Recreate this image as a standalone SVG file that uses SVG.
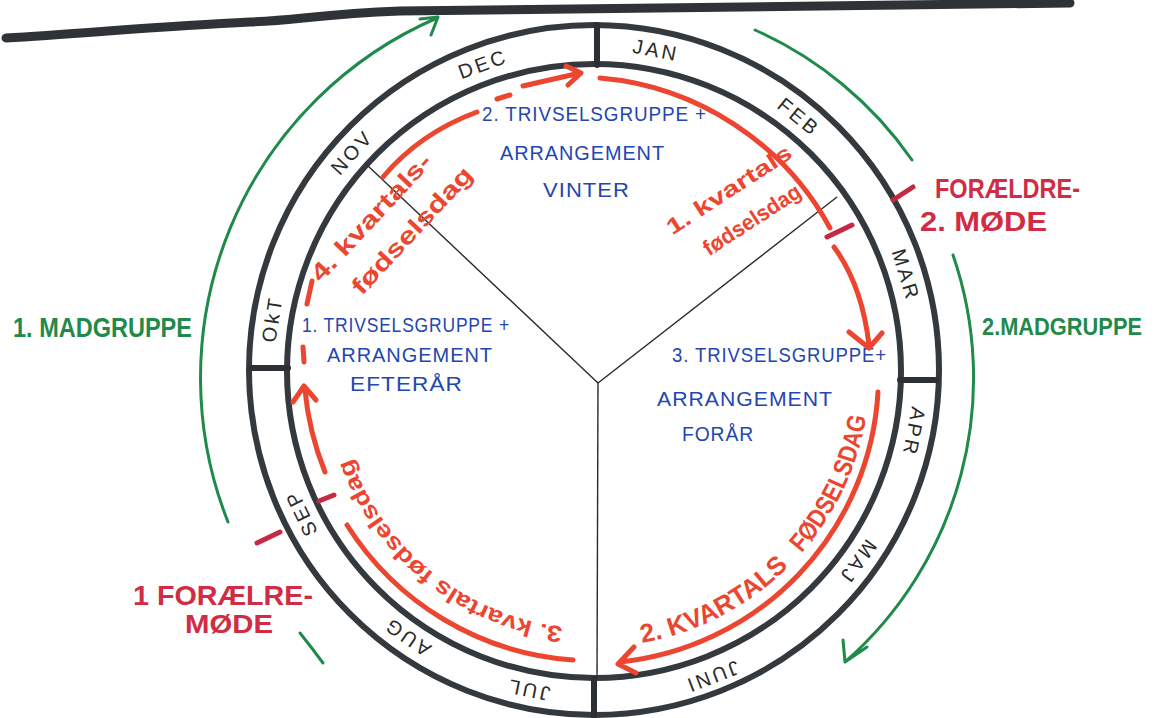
<svg xmlns="http://www.w3.org/2000/svg" width="1159" height="718" viewBox="0 0 1159 718">
<defs>
<style>
.ring{fill:none;stroke:#34393e;stroke-width:6}
.div{stroke:#2c3034;stroke-width:6;stroke-linecap:round}
.spoke{stroke:#2a2a2a;stroke-width:1.4}
.mon{font-family:"Liberation Sans",Arial,sans-serif;font-size:20px;fill:#2a2a2a;letter-spacing:3px;text-anchor:middle;dominant-baseline:central}
.blue{font-family:"Liberation Sans",Arial,sans-serif;font-size:21px;fill:#2346b0;letter-spacing:1px}
.red{fill:none;stroke:#ec4530;stroke-width:5;stroke-linecap:round;stroke-linejoin:round}
.redt{font-family:"Liberation Sans",Arial,sans-serif;fill:#ec4530;font-weight:bold}
.tick{stroke:#c42a44;stroke-width:5;stroke-linecap:round}
.crim{font-family:"Liberation Sans",Arial,sans-serif;fill:#d02c44;font-weight:bold}
.grn{fill:none;stroke:#1f8a4a;stroke-width:3;stroke-linecap:round;stroke-linejoin:round}
.grnt{font-family:"Liberation Sans",Arial,sans-serif;fill:#1f8a4a;font-weight:bold}
</style>
<path id="p2a" d="M 642,643 A 276 276 0 0 0 790.9,564.4"/>
<path id="p2b" d="M 801.4,553.2 A 276 276 0 0 0 866.6,414.2"/>
<path id="p3" d="M 563,627 A 258 258 0 0 1 350,455"/>
</defs>
<rect width="1159" height="718" fill="#ffffff"/>
<path d="M6,38 C80,34 160,26 250,22 C300,20 320,14 400,11 C520,8 700,7 900,5 L1070,3" fill="none" stroke="#2f3338" stroke-width="9" stroke-linecap="round"/>

<g id="wheel">
<circle class="ring" cx="594" cy="370" r="345"/>
<circle class="ring" cx="594" cy="371" r="307"/>
<line class="div" x1="597" y1="25" x2="597" y2="65"/>
<line class="div" x1="251" y1="368" x2="288" y2="368"/>
<line class="div" x1="900" y1="380" x2="937" y2="380"/>
<line class="div" x1="594" y1="679" x2="594" y2="716"/>
</g>

<g id="spokes">
<line class="spoke" x1="598" y1="383" x2="367" y2="165"/>
<line class="spoke" x1="598" y1="383" x2="837" y2="197"/>
<line class="spoke" x1="598" y1="383" x2="597" y2="678"/>
</g>

<g id="months">
<text class="mon" transform="translate(656,50) rotate(11)">JAN</text>
<text class="mon" transform="translate(799,117) rotate(39)">FEB</text>
<text class="mon" transform="translate(906,275) rotate(73)">MAR</text>
<text class="mon" transform="translate(914,432) rotate(101)">APR</text>
<text class="mon" transform="translate(858,562) rotate(126)">MAJ</text>
<text class="mon" transform="translate(712,677) rotate(159)">JUNI</text>
<text class="mon" transform="translate(528,690) rotate(191.6)">JUL</text>
<text class="mon" transform="translate(407,637) rotate(215)">AUG</text>
<text class="mon" transform="translate(301,513) rotate(244)">SEP</text>
<text class="mon" transform="translate(272,319) rotate(279)">OkT</text>
<text class="mon" transform="translate(352,152) rotate(312)">NOV</text>
<text class="mon" transform="translate(483,64) rotate(340)">DEC</text>
</g>

<g id="trivsel-2">
<text class="blue" x="482" y="121" textLength="225" lengthAdjust="spacingAndGlyphs">2. TRIVSELSGRUPPE +</text>
<text class="blue" x="500" y="160" textLength="165" lengthAdjust="spacingAndGlyphs">ARRANGEMENT</text>
<text class="blue" x="543" y="197" textLength="87" lengthAdjust="spacingAndGlyphs">VINTER</text>
</g>
<g id="trivsel-1">
<text class="blue" x="302" y="332" textLength="208" lengthAdjust="spacingAndGlyphs">1. TRIVSELSGRUPPE +</text>
<text class="blue" x="327" y="362" textLength="166" lengthAdjust="spacingAndGlyphs">ARRANGEMENT</text>
<text class="blue" x="350" y="391" textLength="113" lengthAdjust="spacingAndGlyphs">EFTERÅR</text>
</g>
<g id="trivsel-3">
<text class="blue" x="672" y="362" textLength="215" lengthAdjust="spacingAndGlyphs">3. TRIVSELSGRUPPE+</text>
<text class="blue" x="657" y="406" textLength="176" lengthAdjust="spacingAndGlyphs">ARRANGEMENT</text>
<text class="blue" x="682" y="441" textLength="72" lengthAdjust="spacingAndGlyphs">FORÅR</text>
</g>

<g id="connectors">
<path class="red" d="M 383,177 Q 420,133 477,112"/>
<path class="red" d="M 497,99 L 510,95"/>
<path class="red" d="M 523,86 L 580,73 M 566,66 L 581,73 L 568,85"/>
<path class="red" d="M 600,78 A 290 290 0 0 1 830,228" stroke-width="7"/>
<path class="red" d="M 834,247 Q 862,285 869,345 M 849,332 L 869,348 L 882,333" stroke-width="6"/>
<path class="red" d="M 878,392 A 288 288 0 0 1 620,662 M 634,647 L 618,664 L 636,673"/>
<path class="red" d="M 347,525 A 291 291 0 0 0 573,660"/>
<path class="red" d="M 325,472 A 289 289 0 0 1 305,390 M 293,402 L 304,386 L 316,400"/>
<path class="red" d="M 303,347 L 304,362"/>
<path class="red" d="M 312,281 L 307,304"/>
<line class="tick" x1="827" y1="237" x2="852" y2="225"/>
<line class="tick" x1="893" y1="200" x2="913" y2="187"/>
<line class="tick" x1="257" y1="543" x2="280" y2="532"/>
<line class="tick" x1="319" y1="501" x2="334" y2="495"/>
<path class="grn" d="M 228,522 A 392 392 0 0 1 437,18 M 420,19 L 438,17 L 431,35"/>
<path class="grn" d="M 300,633 Q 312,648 323,663"/>
<path class="grn" d="M 755,30 A 380 380 0 0 1 912,160"/>
<path class="grn" d="M 953,255 A 378 378 0 0 1 845,662 M 867,647 L 845,662 L 843,640"/>
</g>

<g id="kvartal-1">
<text class="redt" font-size="22" transform="translate(733,196) rotate(-33)" text-anchor="middle" textLength="145" lengthAdjust="spacingAndGlyphs">1. kvartals</text>
<text class="redt" font-size="22" transform="translate(756,226) rotate(-33)" text-anchor="middle" textLength="112" lengthAdjust="spacingAndGlyphs">fødselsdag</text>
</g>
<g id="kvartal-4">
<text class="redt" font-size="24" transform="translate(377,223) rotate(-47)" text-anchor="middle" textLength="165" lengthAdjust="spacingAndGlyphs">4. kvartals-</text>
<text class="redt" font-size="24" transform="translate(418,236) rotate(-47)" text-anchor="middle" textLength="165" lengthAdjust="spacingAndGlyphs">fødselsdag</text>
</g>
<g id="kvartal-2">
<text class="redt" font-size="26"><textPath href="#p2a" textLength="168" lengthAdjust="spacingAndGlyphs">2. KVARTALS</textPath></text>
<text class="redt" font-size="26"><textPath href="#p2b" textLength="153" lengthAdjust="spacingAndGlyphs">FØDSELSDAG</textPath></text>
</g>
<g id="kvartal-3">
<text class="redt" font-size="23" font-weight="normal"><textPath href="#p3" textLength="285" lengthAdjust="spacingAndGlyphs">3. kvartals fødselsdag</textPath></text>
</g>

<g id="madgruppe-1">
<text class="grnt" x="13" y="337" font-size="27" textLength="179" lengthAdjust="spacingAndGlyphs">1. MADGRUPPE</text>
</g>
<g id="madgruppe-2">
<text class="grnt" x="982" y="335" font-size="23" textLength="160" lengthAdjust="spacingAndGlyphs">2.MADGRUPPE</text>
</g>
<g id="foraeldre-2">
<text class="crim" x="935" y="198" font-size="28" textLength="145" lengthAdjust="spacingAndGlyphs">FORÆLDRE-</text>
<text class="crim" x="920" y="231" font-size="28" textLength="127" lengthAdjust="spacingAndGlyphs">2. MØDE</text>
</g>
<g id="foraeldre-1">
<text class="crim" x="133" y="605" font-size="28" textLength="180" lengthAdjust="spacingAndGlyphs">1 FORÆLRE-</text>
<text class="crim" x="185" y="633" font-size="26" textLength="88" lengthAdjust="spacingAndGlyphs">MØDE</text>
</g>
</svg>
